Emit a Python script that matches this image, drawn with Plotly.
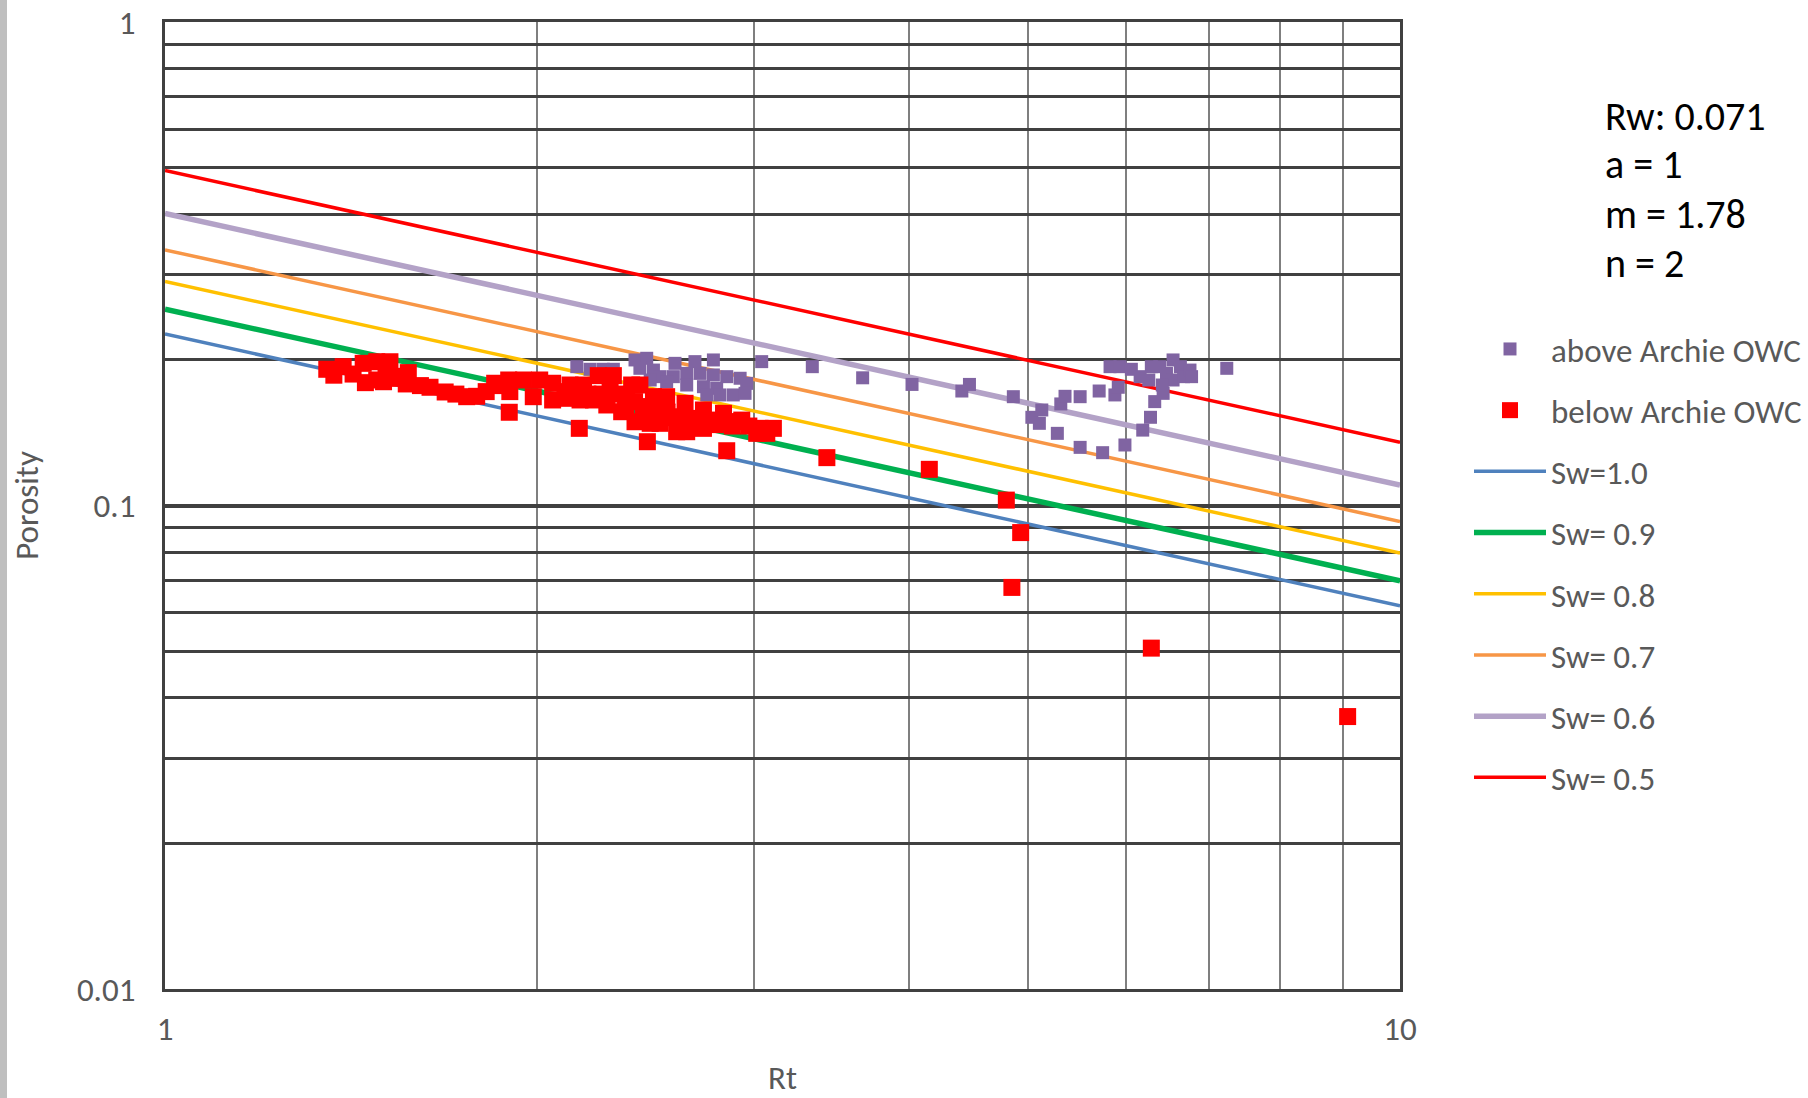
import plotly.graph_objects as go

# ---------------- data ----------------
above_rt = [2.155, 2.209, 2.264, 2.307, 2.402, 2.455, 2.424, 2.486, 2.588, 2.686,
            2.780, 2.517, 2.580, 2.645, 2.712, 2.780, 2.850, 2.922, 2.958, 2.471,
            2.548, 2.645, 2.729, 2.797, 2.746, 2.814, 2.885, 2.949, 3.042,
            3.343, 3.672, 4.026, 4.418, 4.481, 4.863, 5.034, 5.128, 5.105, 5.279,
            5.313, 5.355, 5.508, 5.508, 5.707, 5.744, 5.877, 5.914, 5.988, 5.824,
            5.933, 6.06, 6.16, 6.19, 6.28, 6.29, 6.33, 6.26, 6.39, 6.43, 6.47,
            6.55, 6.55, 6.64, 6.68, 6.76, 6.78, 6.42, 7.24]
above_phi = [0.1937, 0.1913, 0.1913, 0.1913, 0.2000, 0.2016, 0.1922, 0.1906, 0.1968, 0.1984,
             0.2000, 0.1847, 0.1847, 0.1876, 0.1876, 0.1862, 0.1847, 0.1833, 0.1789, 0.1818,
             0.1803, 0.1775, 0.1761, 0.1747, 0.1693, 0.1693, 0.1693, 0.1706, 0.1984,
             0.1937, 0.1837, 0.1780, 0.1725, 0.1780, 0.1679, 0.1522, 0.1576, 0.1479, 0.1410,
             0.1622, 0.1682, 0.1679, 0.1319, 0.1725, 0.1286, 0.1693, 0.1756, 0.1334, 0.1937,
             0.1937, 0.1913, 0.1847, 0.1432, 0.1522, 0.1937, 0.1640, 0.1818, 0.1937, 0.1706, 0.1876,
             0.2000, 0.1818, 0.1937, 0.1847, 0.1906, 0.1847, 0.1775, 0.1922]

below_rt = [1.352, 1.394, 1.447, 1.484, 1.521, 1.453, 1.484, 1.531, 1.503, 1.568,
            1.574, 1.639, 1.686, 1.755, 1.788, 1.849, 1.898, 1.951, 2.011, 2.060,
            1.902, 1.987, 2.060, 1.900,
            1.61, 1.72, 1.82, 1.87, 1.42, 1.37, 1.51, 1.55,
            2.128, 2.182, 2.243, 2.307, 2.387, 2.424, 2.486, 2.548, 2.637, 2.729,
            2.833, 2.931, 3.033, 3.109,
            2.108, 2.168, 2.223, 2.279, 2.343, 2.402, 2.471, 2.517, 2.596, 2.645,
            2.729, 2.850, 2.922, 3.014, 3.071,
            2.293, 2.365, 2.439, 2.517, 2.596, 2.678, 2.763,
            2.20, 2.26, 2.33, 2.40, 2.47, 2.55, 2.62, 2.70, 2.79, 2.88, 2.97, 2.12, 2.36, 2.56,
            2.165, 2.458, 2.850, 3.435, 4.158, 4.80, 4.93, 4.85, 6.29, 9.07]
below_phi = [0.1913, 0.1937, 0.1968, 0.1983, 0.1983, 0.1795, 0.1818, 0.1832, 0.1803, 0.1784,
             0.1883, 0.1756, 0.1717, 0.1679, 0.1682, 0.1790, 0.1818, 0.1818, 0.1818, 0.1790,
             0.1720, 0.1679, 0.1653, 0.1559,
             0.1770, 0.1700, 0.1720, 0.1770, 0.1870, 0.1860, 0.1900, 0.1850,
             0.1775, 0.1775, 0.1856, 0.1856, 0.1775, 0.1775, 0.1679, 0.1679, 0.1627, 0.1576,
             0.1551, 0.1502, 0.1444, 0.1444,
             0.1666, 0.1653, 0.1653, 0.1614, 0.1563, 0.1490, 0.1479, 0.1479, 0.1421, 0.1421,
             0.1444, 0.1490, 0.1490, 0.1410, 0.1410,
             0.1734, 0.1653, 0.1601, 0.1576, 0.1526, 0.1514, 0.1502,
             0.1700, 0.1700, 0.1700, 0.1640, 0.1600, 0.1560, 0.1500, 0.1480, 0.1470, 0.1460, 0.1460, 0.1720, 0.1600, 0.1520,
             0.1444, 0.1355, 0.1298, 0.1256, 0.1188, 0.1026, 0.0879, 0.0677, 0.0507, 0.0366]

# Archie saturation lines (straight in log-log): porosity at Rt = 1 and Rt = 10
line_rt = [1, 10]
sw_names = ["Sw=1.0", "Sw= 0.9", "Sw= 0.8", "Sw= 0.7", "Sw= 0.6", "Sw= 0.5"]
sw_phi = [[0.2263, 0.0620],
          [0.2547, 0.0699],
          [0.2907, 0.0797],
          [0.3378, 0.0927],
          [0.4017, 0.1102],
          [0.4930, 0.1352]]
sw_colors = ["#4F81BD", "#00B050", "#FFC000", "#F79646", "#B3A2C7", "#FF0000"]
sw_widths = [3.5, 5.5, 3.5, 3.5, 5.5, 3.5]

params_text = ["Rw: 0.071", "a = 1", "m = 1.78", "n = 2"]

y_major = [0.01, 0.1, 1]
y_minor = [0.02, 0.03, 0.04, 0.05, 0.06, 0.07, 0.08, 0.09,
           0.2, 0.3, 0.4, 0.5, 0.6, 0.7, 0.8, 0.9]
x_major = [1, 10]
x_minor = [2, 3, 4, 5, 6, 7, 8, 9]

FONT = "Carlito, Lato, 'Open Sans', sans-serif"
GREY = "#595959"

fig = go.Figure()

for i, (name, phi, col, w) in enumerate(zip(sw_names, sw_phi, sw_colors, sw_widths)):
    fig.add_trace(go.Scatter(x=line_rt, y=phi, mode="lines", name=name,
                             line=dict(color=col, width=w),
                             legendgroup=name, legendrank=10 + i))

fig.add_trace(go.Scatter(x=above_rt, y=above_phi, mode="markers", name="above Archie OWC",
                         marker=dict(symbol="square", size=13, color="#8064A2"),
                         legendgroup="above", legendrank=1))
fig.add_trace(go.Scatter(x=below_rt, y=below_phi, mode="markers", name="below Archie OWC",
                         marker=dict(symbol="square", size=17, color="#FF0000"),
                         legendgroup="below", legendrank=2))

# page body margin is removed below, so figure spans page x 0..1808, y 0..1098
W, H = 1808, 1098
L, R, T, B = 165, 408, 22, 109
pw, ph = W - L - R, H - T - B   # 1235 x 967 ; plot area x 165..1400, y 22..989


def px(xp):
    return (xp - L) / pw


def py(yp):
    return (T + ph - yp) / ph


fig.update_xaxes(type="log", range=[0, 1],
                 tickmode="array", tickvals=x_major, ticktext=["1", "10"],
                 showgrid=False, ticks="", ticklabeloverflow="allow",
                 minor=dict(tickmode="array", tickvals=x_minor, showgrid=True,
                            gridcolor="#7F7F7F", gridwidth=2, ticks=""),
                 showline=True, linecolor="#404040", linewidth=3, mirror=True,
                 tickfont=dict(family=FONT, size=33, color=GREY),
                 ticklabelstandoff=8,
                 title=dict(text="Rt", font=dict(family=FONT, size=33, color=GREY), standoff=27),
                 zeroline=False)
fig.update_yaxes(type="log", range=[-2, 0],
                 tickmode="array", tickvals=y_major, ticktext=["0.01", "0.1", "1"],
                 showgrid=True, gridcolor="#404040", gridwidth=4, ticks="", ticklabeloverflow="allow",
                 minor=dict(tickmode="array", tickvals=y_minor, showgrid=True,
                            gridcolor="#404040", gridwidth=2.5, ticks=""),
                 showline=True, linecolor="#404040", linewidth=3, mirror=True,
                 tickfont=dict(family=FONT, size=33, color=GREY),
                 ticklabelstandoff=20,
                 title=dict(text="Porosity", font=dict(family=FONT, size=33, color=GREY), standoff=29),
                 zeroline=False)

for k, txt in enumerate(params_text):
    ypx = 116 + 49 * k
    fig.add_annotation(text=txt, xref="paper", yref="paper",
                       x=px(1603), y=py(ypx),
                       xanchor="left", yanchor="middle", showarrow=False,
                       font=dict(family=FONT, size=40, color="#000000"))

fig.add_shape(type="rect", xref="paper", yref="paper",
              x0=px(0), x1=px(7), y0=py(H), y1=py(0),
              fillcolor="#BFBFBF", line=dict(width=0), layer="below")

fig.update_layout(
    width=W, height=H,
    margin=dict(l=L, r=R, t=T, b=B, autoexpand=False),
    paper_bgcolor="white", plot_bgcolor="white",
    font=dict(family=FONT, color=GREY),
    legend=dict(x=px(1469), y=py(321), xanchor="left", yanchor="top",
                font=dict(family=FONT, size=33, color=GREY),
                tracegroupgap=15.3, bgcolor="rgba(0,0,0,0)", itemwidth=72),
    showlegend=True,
)

fig.write_html("out.html", config={"displayModeBar": False},
               post_script="document.body.style.margin='0';")
